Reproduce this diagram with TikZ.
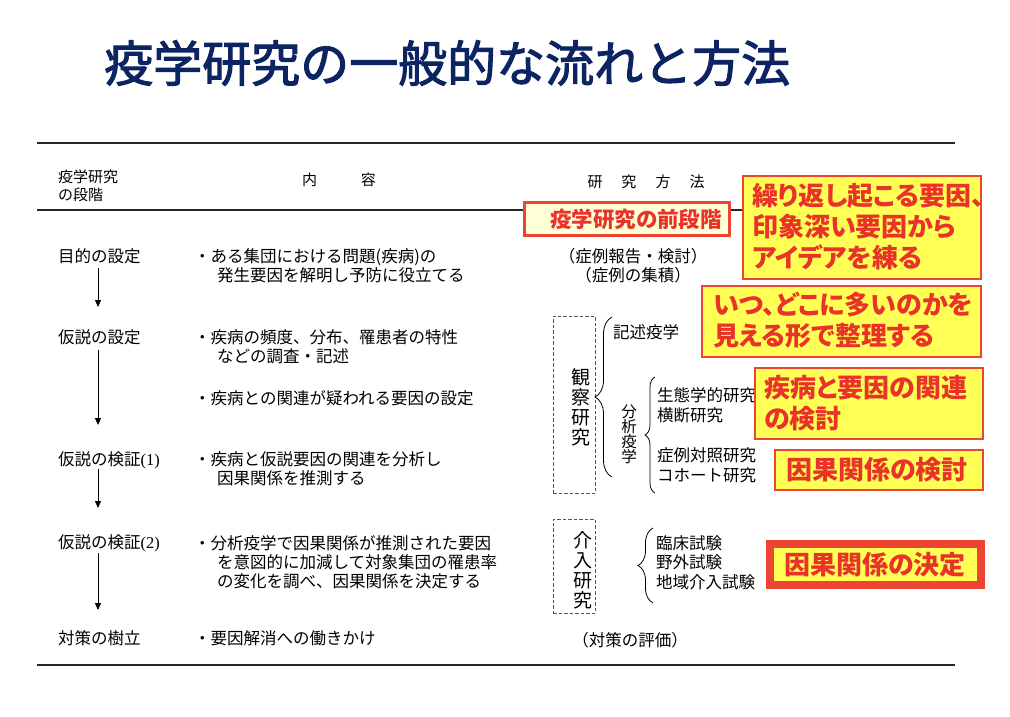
\documentclass[tikz,border=0pt]{standalone}
\usepackage{fontspec}
\setmainfont{Noto Sans CJK JP}
\newfontfamily\redfont[RawFeature=+palt]{Noto Sans CJK JP}
\newfontfamily\titlefont[FakeBold=2.2]{Noto Sans CJK JP}
\newfontfamily\tnr{Liberation Serif}
\usetikzlibrary{arrows.meta,decorations.pathreplacing}
\definecolor{navy}{HTML}{0C2462}
\definecolor{textred}{HTML}{E8322A}
\definecolor{boxred}{HTML}{EE4433}
\definecolor{boxyellow}{HTML}{FFFF55}
\definecolor{paleyellow}{HTML}{FFFFD8}
\definecolor{dashgray}{HTML}{555555}
\tikzset{
  txt/.style={inner sep=0pt, font=\fontsize{16.5}{19}\selectfont, align=left},
  hdr/.style={inner sep=0pt, font=\fontsize{15}{18}\selectfont, align=left},
  vtxt/.style={inner sep=0pt, font=\fontsize{19}{20}\selectfont, align=center},
  ybox/.style={draw=boxred, line width=1.2pt, fill=boxyellow, inner sep=0pt},
  rtxt/.style={inner sep=0pt, text=textred, font=\redfont\bfseries\fontsize{26}{31}\selectfont, align=left},
  dbox/.style={draw=dashgray, dash pattern=on 3.5pt off 2pt, line width=0.9pt, inner sep=0pt},
  arr/.style={-{Triangle[length=7pt,width=6pt]}, line width=0.9pt},
  brc/.style={decorate, decoration={brace, amplitude=#1}, line width=0.8pt},
  rule/.style={line width=1.4pt, draw=black!85}
}
\begin{document}
\begin{tikzpicture}[x=1pt,y=-1pt]
\useasboundingbox[fill=white] (0,0) rectangle (1010,716);

% title
\node[inner sep=0pt, anchor=west, text=navy, font=\titlefont\fontsize{49}{55}\selectfont] (title) at (104,63) {疫学研究の一般的な流れと方法};

% rules
\coordinate (r1a) at (37,143); \coordinate (r1b) at (955,143);
\coordinate (r2a) at (37,210); \coordinate (r2b) at (955,210);
\coordinate (r3a) at (37,665); \coordinate (r3b) at (955,665);
\draw[rule] (r1a) -- (r1b);
\draw[rule] (r2a) -- (r2b);
\draw[rule] (r3a) -- (r3b);

% header
\node[hdr, anchor=west] (h1) at (58,186) {疫学研究\\の段階};
\node[hdr] (h2) at (339,180) {内\hspace{44pt}容};
\node[hdr] (h3) at (646,182) {研\hspace{19pt}究\hspace{19pt}方\hspace{19pt}法};

% stages
\node[txt, anchor=west] (s1) at (58,256) {目的の設定};
\node[txt, anchor=west] (s2) at (58,337) {仮説の設定};
\node[txt, anchor=west] (s3) at (58,460) {仮説の検証{\tnr (1)}};
\node[txt, anchor=west] (s4) at (58,543) {仮説の検証{\tnr (2)}};
\node[txt, anchor=west] (s5) at (58,638) {対策の樹立};

\coordinate (a1s) at (98,268); \coordinate (a1e) at (98,307);
\coordinate (a2s) at (98,350); \coordinate (a2e) at (98,425);
\coordinate (a3s) at (98,469); \coordinate (a3e) at (98,508);
\coordinate (a4s) at (98,553); \coordinate (a4e) at (98,610);
\draw[arr] (a1s) -- (a1e);
\draw[arr] (a2s) -- (a2e);
\draw[arr] (a3s) -- (a3e);
\draw[arr] (a4s) -- (a4e);

% contents
\node[txt, anchor=west] (c1) at (194,265.5) {・ある集団における問題(疾病)の\\\hspace*{23pt}発生要因を解明し予防に役立てる};
\node[txt, anchor=west] (c2) at (194,346.5) {・疾病の頻度、分布、罹患者の特性\\\hspace*{23pt}などの調査・記述};
\node[txt, anchor=west] (c3) at (194,398) {・疾病との関連が疑われる要因の設定};
\node[txt, anchor=west] (c4) at (194,469) {・疾病と仮説要因の関連を分析し\\\hspace*{23pt}因果関係を推測する};
\node[txt, anchor=west] (c5) at (194,562) {・分析疫学で因果関係が推測された要因\\\hspace*{23pt}を意図的に加減して対象集団の罹患率\\\hspace*{23pt}の変化を調べ、因果関係を決定する};
\node[txt, anchor=west] (c6) at (194,638) {・要因解消への働きかけ};

% methods
\node[txt, align=center] (m1) at (633,265.5) {（症例報告・検討）\\（症例の集積）};
\node[txt, align=center] (m2) at (630,640) {（対策の評価）};

\node[dbox, minimum width=42, minimum height=177] (d1) at (574,404.5) {};
\node[vtxt] (v1) at (581,407) {観\\察\\研\\究};
\node[dbox, minimum width=42, minimum height=94] (d2) at (574,566) {};
\node[vtxt] (v2) at (583,570) {介\\入\\研\\究};

\coordinate (b1b) at (612,477); \coordinate (b1t) at (612,317);
\draw[brc=17] (b1b) -- (b1t);
\node[txt, anchor=west] (k1) at (613,332) {記述疫学};
\node[inner sep=0pt, font=\fontsize{15.5}{15}\selectfont, align=center] (v3) at (629,434) {分\\析\\疫\\学};
\coordinate (b2b) at (655,493); \coordinate (b2t) at (655,377);
\draw[brc=10] (b2b) -- (b2t);
\node[txt, anchor=west, font=\fontsize{16.5}{20}\selectfont] (k2) at (657,405) {生態学的研究\\横断研究};
\node[txt, anchor=west, font=\fontsize{16.5}{20}\selectfont] (k3) at (657,465) {症例対照研究\\コホート研究};
\coordinate (b3b) at (653,603); \coordinate (b3t) at (653,528);
\draw[brc=15] (b3b) -- (b3t);
\node[txt, anchor=west, font=\fontsize{16.5}{19.5}\selectfont] (k4) at (656,562.5) {臨床試験\\野外試験\\地域介入試験};

% pre-stage box
\node[draw=boxred, line width=3pt, fill=paleyellow, minimum width=205, minimum height=33, inner sep=0pt] (b0) at (627,219) {};
\node[rtxt, font=\redfont\bfseries\fontsize{21.5}{24}\selectfont] (t0) at (636,219) {疫学研究の前段階};

% yellow boxes
\node[ybox, minimum width=238, minimum height=103] (y1) at (862,227.5) {};
\node[rtxt, anchor=west] (t1) at (752,227) {繰り返し起こる要因、\\印象深い要因から\\アイデアを練る};
\node[ybox, minimum width=279, minimum height=71] (y2) at (841.5,321.5) {};
\node[rtxt, anchor=west] (t2) at (713,320.5) {いつ、どこに多いのかを\\見える形で整理する};
\node[ybox, minimum width=228, minimum height=71] (y3) at (869,403.5) {};
\node[rtxt, anchor=west] (t3) at (764,403) {疾病と要因の関連\\の検討};
\node[ybox, minimum width=208, minimum height=40] (y4) at (879,470) {};
\node[rtxt, anchor=west] (t4) at (786,470) {因果関係の検討};
\node[draw=boxred, line width=8pt, fill=boxyellow, minimum width=211, minimum height=41, inner sep=0pt] (y5) at (875.5,564.5) {};
\node[rtxt] (t5) at (875,565) {因果関係の決定};
\end{tikzpicture}
\end{document}
